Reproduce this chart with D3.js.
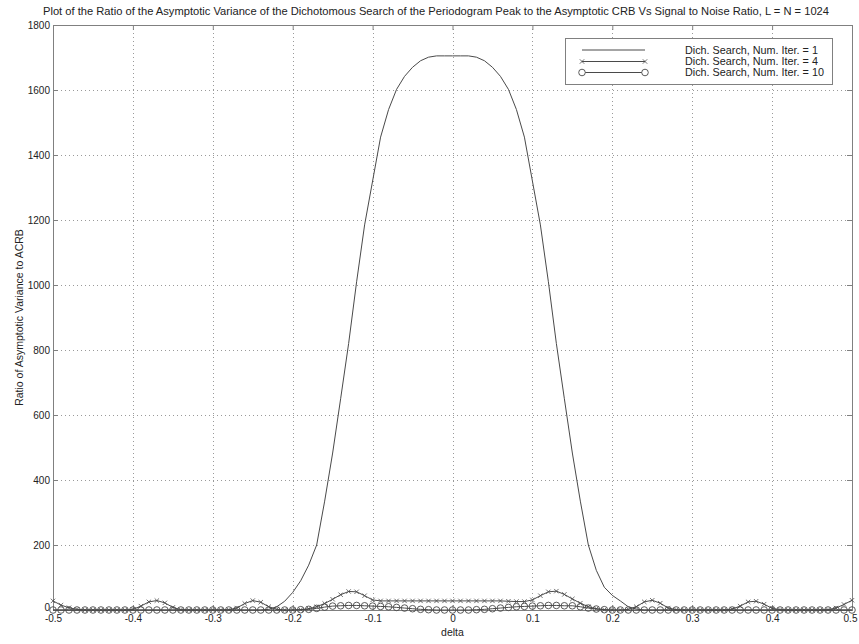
<!DOCTYPE html>
<html>
<head>
<meta charset="utf-8">
<script src="https://cdn.jsdelivr.net/npm/d3@7"></script>
<style>
  html, body { margin: 0; padding: 0; background: #fff; }
  svg { display: block; }
  text { font-family: "Liberation Sans", Arial, Helvetica, sans-serif; fill: #222; }
</style>
</head>
<body>
<svg id="chart" width="859" height="644"></svg>
<script>
// Offset delta, sampled every 0.01 from -0.5 to 0.5
const delta = [
  -0.50, -0.49, -0.48, -0.47, -0.46, -0.45, -0.44, -0.43, -0.42, -0.41,
  -0.40, -0.39, -0.38, -0.37, -0.36, -0.35, -0.34, -0.33, -0.32, -0.31,
  -0.30, -0.29, -0.28, -0.27, -0.26, -0.25, -0.24, -0.23, -0.22, -0.21,
  -0.20, -0.19, -0.18, -0.17, -0.16, -0.15, -0.14, -0.13, -0.12, -0.11,
  -0.10, -0.09, -0.08, -0.07, -0.06, -0.05, -0.04, -0.03, -0.02, -0.01,
   0.00,
   0.01,  0.02,  0.03,  0.04,  0.05,  0.06,  0.07,  0.08,  0.09,  0.10,
   0.11,  0.12,  0.13,  0.14,  0.15,  0.16,  0.17,  0.18,  0.19,  0.20,
   0.21,  0.22,  0.23,  0.24,  0.25,  0.26,  0.27,  0.28,  0.29,  0.30,
   0.31,  0.32,  0.33,  0.34,  0.35,  0.36,  0.37,  0.38,  0.39,  0.40,
   0.41,  0.42,  0.43,  0.44,  0.45,  0.46,  0.47,  0.48,  0.49,  0.50
];

// Ratio of asymptotic variance to ACRB, one iteration
const iter1 = [
  0, 0, 0, 0, 0, 0, 0, 0, 0, 0,
  0, 0, 0, 0, 0, 0, 0, 0, 0, 0,
  0, 0, 0, 0, 0, 0, 0, 2, 10, 27,
  54, 90, 138, 200, 335, 483, 650, 820, 1010, 1185,
  1320, 1455, 1540, 1602, 1642, 1670, 1690, 1701, 1705, 1705,
  1705,
  1705, 1705, 1701, 1690, 1670, 1642, 1602, 1540, 1455, 1320,
  1185, 1010, 820, 650, 483, 335, 200, 122, 70, 45,
  28, 10, 3, 0, 0, 0, 0, 0, 0, 0,
  0, 0, 0, 0, 0, 0, 0, 0, 0, 0,
  0, 0, 0, 0, 0, 0, 0, 0, 0, 0
];

// Four iterations
const iter4 = [
  28, 15, 7, 2, 0, 0, 0, 0, 0, 0,
  2, 12, 25, 29, 22, 8, 1, 0, 0, 0,
  0, 0, 1, 6, 20, 29, 24, 10, 2, 0,
  0, 1, 4, 10, 20, 33, 47, 57, 56, 44,
  31, 28, 28, 28, 28, 28, 28, 28, 28, 28,
  28,
  28, 28, 28, 28, 28, 28, 27, 26, 26, 31,
  44, 56, 58, 48, 34, 21, 10, 4, 1, 0,
  0, 2, 10, 25, 30, 21, 6, 1, 0, 0,
  0, 0, 0, 0, 3, 12, 25, 27, 18, 5,
  1, 0, 0, 0, 0, 0, 1, 6, 17, 30
];

// Ten iterations
const iter10 = [
  0, 0, 0, 0, 0, 0, 0, 0, 0, 0,
  0, 0, 0, 0, 0, 0, 0, 0, 0, 0,
  0, 0, 0, 0, 0, 0, 0, 0, 0, 0,
  0, 1, 2, 5, 9, 12, 13, 14, 14, 13,
  12, 11, 10, 8, 6, 4, 2, 1, 0, 0,
  0,
  0, 0, 1, 2, 4, 6, 8, 10, 11, 12,
  13, 14, 14, 13, 13, 10, 6, 3, 1, 0,
  0, 0, 0, 0, 0, 0, 0, 0, 0, 0,
  0, 0, 0, 0, 0, 0, 0, 0, 0, 0,
  0, 0, 0, 0, 0, 0, 0, 0, 0, 0
];

const xTicks = [-0.5, -0.4, -0.3, -0.2, -0.1, 0, 0.1, 0.2, 0.3, 0.4, 0.5];
const xTickLabels = ["-0.5", "-0.4", "-0.3", "-0.2", "-0.1", "0", "0.1", "0.2", "0.3", "0.4", "0.5"];
const yTicks = [0, 200, 400, 600, 800, 1000, 1200, 1400, 1600, 1800];
const yTickLabels = ["0", "200", "400", "600", "800", "1000", "1200", "1400", "1600", "1800"];

const legendLabels = [
  "Dich. Search, Num. Iter. = 1",
  "Dich. Search, Num. Iter. = 4",
  "Dich. Search, Num. Iter. = 10"
];

const titleText = "Plot of the Ratio of the Asymptotic Variance of the Dichotomous Search of the Periodogram Peak to the Asymptotic CRB Vs Signal to Noise Ratio, L = N = 1024";
const xLabel = "delta";
const yLabel = "Ratio of Asymptotic Variance to ACRB";

const svg = d3.select("#chart");
const plot = { left: 53, right: 852, top: 25, bottom: 610 };

const x = d3.scaleLinear().domain([-0.5, 0.5]).range([plot.left, plot.right]);
const y = d3.scaleLinear().domain([0, 1800]).range([plot.bottom, plot.top]);

const lineColor = "#4a4a4a";
const axisColor = "#808080";
const gridColor = "#9a9a9a";

// Dotted grid
const grid = svg.append("g");
grid.selectAll("line.vg").data(xTicks.slice(1, -1)).join("line")
  .attr("x1", d => Math.round(x(d)) + 0.5).attr("x2", d => Math.round(x(d)) + 0.5)
  .attr("y1", plot.top).attr("y2", plot.bottom)
  .attr("stroke", gridColor).attr("stroke-width", 1)
  .attr("stroke-dasharray", "1,3");
grid.selectAll("line.hg").data(yTicks.slice(1, -1)).join("line")
  .attr("x1", plot.left).attr("x2", plot.right)
  .attr("y1", d => Math.round(y(d)) + 0.5).attr("y2", d => Math.round(y(d)) + 0.5)
  .attr("stroke", gridColor).attr("stroke-width", 1)
  .attr("stroke-dasharray", "1,3");

// Axes with inward ticks on all four sides
function styleAxis(g) {
  g.select(".domain").remove();
  g.selectAll(".tick line").attr("stroke", axisColor);
  g.selectAll(".tick text")
    .attr("font-family", "'Liberation Sans', Arial, sans-serif")
    .attr("font-size", 10).attr("fill", "#333");
}
const fmtX = d => xTickLabels[xTicks.indexOf(d)];
const fmtY = d => yTickLabels[yTicks.indexOf(d)];

const xAxisG = svg.append("g").attr("transform", `translate(0,${plot.bottom})`)
  .call(d3.axisBottom(x).tickValues(xTicks).tickFormat(fmtX).tickSizeInner(-5).tickSizeOuter(0).tickPadding(5))
  .call(styleAxis);
// keep the outermost label inside the page
xAxisG.selectAll(".tick text").filter(d => d === 0.5).attr("dx", -2);

svg.append("g").attr("transform", `translate(0,${plot.top})`)
  .call(d3.axisTop(x).tickValues(xTicks).tickFormat("").tickSizeInner(-5).tickSizeOuter(0))
  .call(styleAxis);
const yAxisG = svg.append("g").attr("transform", `translate(${plot.left},0)`)
  .call(d3.axisLeft(y).tickValues(yTicks).tickFormat(fmtY).tickSizeInner(-5).tickSizeOuter(0).tickPadding(3))
  .call(styleAxis);
// lift the zero label a little off the x labels below it
yAxisG.selectAll(".tick text").filter(d => d === 0).attr("dy", "0.05em");
svg.append("g").attr("transform", `translate(${plot.right},0)`)
  .call(d3.axisRight(y).tickValues(yTicks).tickFormat("").tickSizeInner(-5).tickSizeOuter(0))
  .call(styleAxis);

// Frame
svg.append("rect")
  .attr("x", plot.left + 0.5).attr("y", plot.top + 0.5)
  .attr("width", plot.right - plot.left).attr("height", plot.bottom - plot.top)
  .attr("fill", "none").attr("stroke", axisColor).attr("stroke-width", 1);

// Curves
const series = [iter1, iter4, iter10];
const line = d3.line().x((d, i) => x(delta[i])).y(d => y(d));
const curves = svg.append("g");
series.forEach(s => {
  curves.append("path").datum(s)
    .attr("d", line).attr("fill", "none")
    .attr("stroke", lineColor).attr("stroke-width", 1);
});

// x markers for four iterations
const xm = 2.2;
curves.append("g").selectAll("path").data(iter4).join("path")
  .attr("d", (d, i) => {
    const cx = x(delta[i]), cy = y(d);
    return `M${cx - xm},${cy - xm}L${cx + xm},${cy + xm}M${cx - xm},${cy + xm}L${cx + xm},${cy - xm}`;
  })
  .attr("stroke", lineColor).attr("stroke-width", 0.8).attr("fill", "none");

// circle markers for ten iterations
curves.append("g").selectAll("circle").data(iter10).join("circle")
  .attr("cx", (d, i) => x(delta[i])).attr("cy", d => y(d)).attr("r", 3.3)
  .attr("fill", "none").attr("stroke", lineColor).attr("stroke-width", 0.9);

// Title and axis labels
svg.append("text").attr("x", 436).attr("y", 15).attr("text-anchor", "middle")
  .attr("font-size", 11).attr("textLength", 786).attr("lengthAdjust", "spacingAndGlyphs")
  .text(titleText);
svg.append("text").attr("x", x(0)).attr("y", 636).attr("text-anchor", "middle")
  .attr("font-size", 10.5).text(xLabel);
svg.append("text").attr("transform", `translate(23,${(plot.top + plot.bottom) / 2}) rotate(-90)`)
  .attr("text-anchor", "middle").attr("font-size", 10.5).text(yLabel);

// Legend
const lg = svg.append("g");
lg.append("rect").attr("x", 565.5).attr("y", 38.5).attr("width", 267).attr("height", 46)
  .attr("fill", "#fff").attr("stroke", axisColor);
const rows = [50, 61.5, 72.5];
const lx1 = 582, lx2 = 645;
rows.forEach((ry, k) => {
  lg.append("line").attr("x1", lx1).attr("x2", lx2).attr("y1", ry).attr("y2", ry)
    .attr("stroke", lineColor).attr("stroke-width", 1);
  lg.append("text").attr("x", 685).attr("y", ry + 3.9).attr("font-size", 10.8).text(legendLabels[k]);
});
[lx1, lx2].forEach(cx => {
  lg.append("path")
    .attr("d", `M${cx - xm},${rows[1] - xm}L${cx + xm},${rows[1] + xm}M${cx - xm},${rows[1] + xm}L${cx + xm},${rows[1] - xm}`)
    .attr("stroke", lineColor).attr("stroke-width", 0.8);
  lg.append("circle").attr("cx", cx).attr("cy", rows[2]).attr("r", 3.3)
    .attr("fill", "#fff").attr("stroke", lineColor).attr("stroke-width", 0.9);
});
</script>
</body>
</html>
